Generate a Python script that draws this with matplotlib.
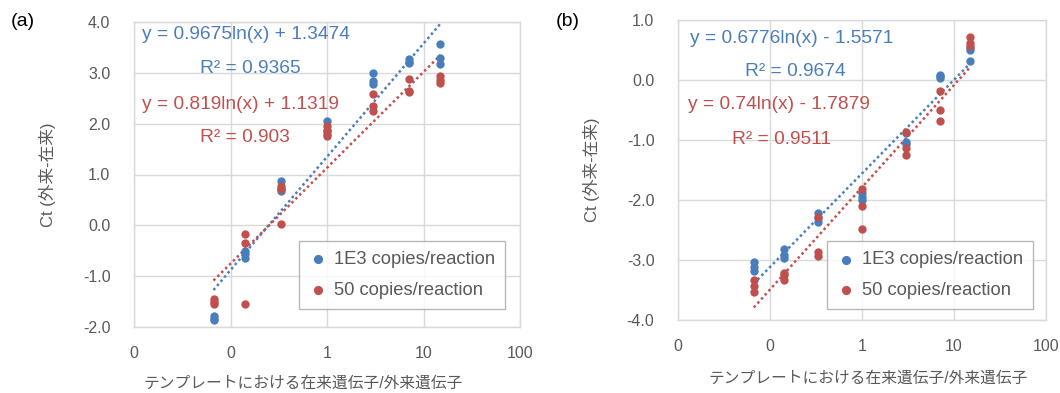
import numpy as np
import matplotlib
matplotlib.use("Agg")
import matplotlib.pyplot as plt
from matplotlib.ticker import FixedLocator, FuncFormatter

plt.rcParams['font.family'] = ['Liberation Sans', 'Noto Sans CJK JP']

# テンプレート比 (在来/外来)
ratios = [1 / 15, 1 / 7, 1 / 3, 1, 3, 7, 15]

# (a) Ct値 (3反復)
a_1e3 = [[-1.79, -1.84, -1.86], [-0.50, -0.57, -0.65], [0.87, 0.67, 0.72],
         [2.06, 1.85, 1.80], [3.00, 2.83, 2.78], [3.27, 3.22, 3.19],
         [3.56, 3.29, 3.17]]
a_50 = [[-1.44, -1.55, -1.50], [-0.18, -0.35, -1.55], [0.77, 0.72, 0.02],
        [1.95, 1.88, 1.75], [2.59, 2.34, 2.25], [2.88, 2.65, 2.63],
        [2.93, 2.86, 2.80]]

# (b) Ct値 (3反復)
b_1e3 = [[-3.03, -3.11, -3.19], [-2.81, -2.92, -2.97], [-2.22, -2.36, -2.30],
         [-1.89, -2.00, -1.95], [-0.89, -1.07, -1.03], [0.07, 0.04, 0.09],
         [0.53, 0.50, 0.32]]
b_50 = [[-3.33, -3.44, -3.54], [-3.22, -3.33, -3.25], [-2.28, -2.86, -2.93],
        [-1.81, -2.10, -2.49], [-0.86, -1.14, -1.25], [-0.18, -0.50, -0.68],
        [0.72, 0.61, 0.57]]

# 近似式 y = a ln(x) + b, R²
a_fit_1e3 = (0.9675, 1.3474, 0.9365)
a_fit_50 = (0.819, 1.1319, 0.903)
b_fit_1e3 = (0.6776, -1.5571, 0.9674)
b_fit_50 = (0.74, -1.7879, 0.9511)

series_names = ['1E3 copies/reaction', '50 copies/reaction']
x_ticks = [0.01, 0.1, 1, 10, 100]

BLUE = '#4a7ebb'
RED = '#c0504d'
GRID = '#d9d9d9'
TXT = '#595959'


def eq_text(fit):
    a, b, _ = fit
    sign = '+' if b >= 0 else '-'
    return f'y = {a:g}ln(x) {sign} {abs(b):.4f}'


def draw_panel(ax, d1, d2, f1, f2, ylim, eq_pos, leg_anchor, ylab_x, xlab_xy):
    for data, fit, col, name in [(d1, f1, BLUE, series_names[0]), (d2, f2, RED, series_names[1])]:
        xs = np.repeat(ratios, [len(v) for v in data])
        ys = np.concatenate(data)
        ax.scatter(xs, ys, s=36, color=col, label=name, zorder=3, linewidths=0)
        xx = np.geomspace(min(ratios), max(ratios), 200)
        ax.plot(xx, fit[0] * np.log(xx) + fit[1], color=col, lw=1.8,
                ls=(0, (1, 1.2)), zorder=2)

    ax.set_xscale('log')
    ax.set_xlim(0.01, 100)
    ax.set_ylim(*ylim)
    ax.xaxis.set_major_locator(FixedLocator(x_ticks))
    ax.xaxis.set_minor_locator(FixedLocator([]))
    ax.xaxis.set_major_formatter(FuncFormatter(lambda v, p: f'{v:.0f}'))
    ax.set_yticks(np.arange(ylim[0], ylim[1] + 0.5, 1.0))
    ax.yaxis.set_major_formatter(FuncFormatter(lambda v, p: f'{v:.1f}'))
    ax.grid(True, color=GRID, lw=1.0)
    ax.set_axisbelow(True)
    for sp in ax.spines.values():
        sp.set_color(GRID)
        sp.set_linewidth(1.0)
    ax.tick_params(length=0, labelsize=11.5, colors=TXT)
    ax.tick_params(axis='x', pad=14)
    ax.tick_params(axis='y', pad=17)

    # 近似式
    (e1x, e1y), (r1x, r1y), (e2x, e2y), (r2x, r2y) = eq_pos
    ax.text(e1x, e1y, eq_text(f1), color=BLUE, fontsize=13.8, transform=ax.transAxes, va='center')
    ax.text(r1x, r1y, f'R² = {f1[2]:g}', color=BLUE, fontsize=13.8, transform=ax.transAxes, va='center')
    ax.text(e2x, e2y, eq_text(f2), color=RED, fontsize=13.8, transform=ax.transAxes, va='center')
    ax.text(r2x, r2y, f'R² = {f2[2]:g}', color=RED, fontsize=13.8, transform=ax.transAxes, va='center')

    leg = ax.legend(loc='lower right', bbox_to_anchor=leg_anchor, fontsize=13.2,
                    frameon=True, fancybox=False, edgecolor='#a6a6a6',
                    handletextpad=0.35, labelspacing=0.75, borderpad=0.55,
                    handlelength=1.0, labelcolor=TXT, markerscale=1.1)
    leg.get_frame().set_linewidth(1.0)

    ax.set_ylabel('Ct (外来-在来)', fontsize=12, color=TXT)
    ax.yaxis.set_label_coords(ylab_x, 0.5)
    ax.set_xlabel('テンプレートにおける在来遺伝子/外来遺伝子', fontsize=11.3, color=TXT)
    ax.xaxis.set_label_coords(*xlab_xy)
    ax.xaxis.label.set_va('center')


fig = plt.figure(figsize=(10.6, 3.93), dpi=100)
ax1 = fig.add_axes([134 / 1060, 66 / 393, 386 / 1060, 305 / 393])
ax2 = fig.add_axes([678 / 1060, 73 / 393, 368 / 1060, 300 / 393])

draw_panel(ax1, a_1e3, a_50, a_fit_1e3, a_fit_50, (-2.0, 4.0),
           [(0.021, 0.96), (0.171, 0.849), (0.021, 0.728), (0.171, 0.62)],
           (0.985, 0.03), -0.202, (0.438, -0.184))
draw_panel(ax2, b_1e3, b_50, b_fit_1e3, b_fit_50, (-4.0, 1.0),
           [(0.033, 0.937), (0.182, 0.827), (0.027, 0.717), (0.147, 0.603)],
           (0.99, 0.005), -0.212, (0.516, -0.193))

fig.text(23 / 1060, 1 - 22 / 393, '(a)', fontsize=14, ha='center', va='center')
fig.text(568 / 1060, 1 - 22 / 393, '(b)', fontsize=14, ha='center', va='center')

fig.savefig('out.png', dpi=100)
